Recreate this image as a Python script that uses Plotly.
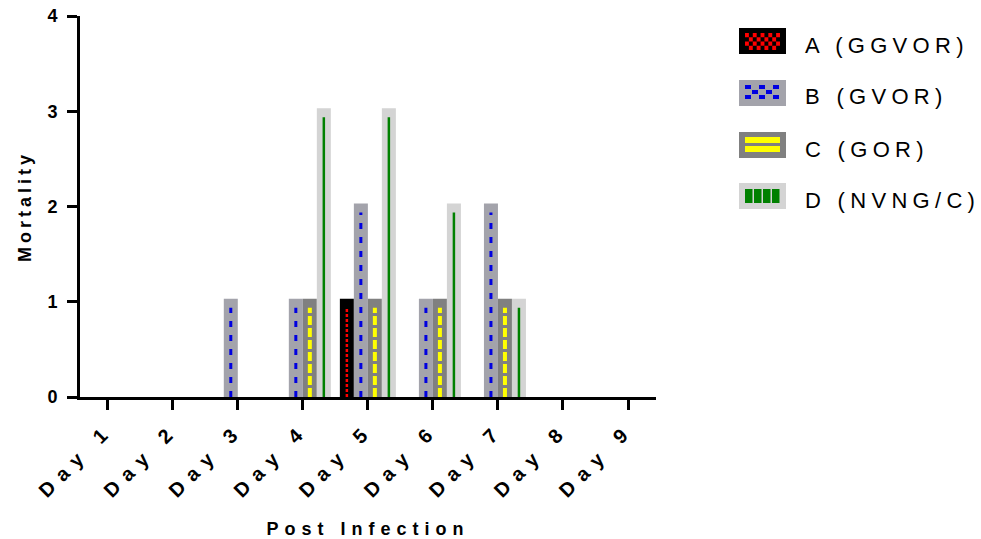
import plotly.graph_objects as go

# ---------------- data ----------------
day_labels = ["Day 1", "Day 2", "Day 3", "Day 4", "Day 5", "Day 6", "Day 7", "Day 8", "Day 9"]
day_pos = [1, 2, 3, 4, 5, 6, 7, 8, 9]
series_names = ["A (GGVOR)", "B (GVOR)", "C (GOR)", "D (NVNG/C)"]
a_vals = [0, 0, 0, 0, 1, 0, 0, 0, 0]
b_vals = [0, 0, 1, 1, 2, 1, 2, 0, 0]
c_vals = [0, 0, 0, 1, 1, 1, 1, 0, 0]
d_vals = [0, 0, 0, 3, 3, 2, 1, 0, 0]
y_ticks = [0, 1, 2, 3, 4]
y_title = "Mortality"
x_title = "Post Infection"

# ---------------- style ----------------
FONT = "Liberation Sans, Arial, Helvetica, sans-serif"
OFF = 0                                  # body margin removed by post_script
W, H = 981 - OFF, 539 - OFF
# plot area (screen pixels) -> figure pixels
PL, PR, PT, PB = 80 - OFF, 656 - OFF, 16 - OFF, 397 - OFF
X_RANGE = [0.574, 9.43]
PX_PER_DAY = (PR - PL) / (X_RANGE[1] - X_RANGE[0])
PX_PER_UNIT = (PB - PT) / 4.0

fills = ["#000000", "#a3a3ab", "#808080", "#d4d4d4"]
line_colors = ["#ff0000", "#0000e0", "#ffff00", "#008000"]
line_dash = ["3px,2px", "6px,8px", "9px,3px", "solid"]
line_width = [2.5, 3, 4, 2.5]

BAR_PX = 14.0
STROKE_PX = 6.0
bw_full = BAR_PX / PX_PER_DAY
bw_fill = (BAR_PX - STROKE_PX) / PX_PER_DAY
stroke_off = (STROKE_PX / 2) / PX_PER_DAY
line_gap = 6.0 / PX_PER_UNIT


def sp(text, spacing):
    return '<span style="letter-spacing:%spx">%s</span>' % (spacing, text)


def pxx(xs):
    # screen x -> paper
    return (xs - OFF - PL) / (PR - PL)


def pxy(ys):
    # screen y -> paper
    return (PB - (ys - OFF)) / (PB - PT)


fig = go.Figure()
all_vals = [a_vals, b_vals, c_vals, d_vals]
for i, vals in enumerate(all_vals):
    fig.add_trace(go.Bar(
        x=day_pos, y=vals, name=series_names[i],
        width=bw_fill, offset=(-2 + i) * bw_full + stroke_off,
        marker=dict(color=fills[i],
                    line=dict(color=fills[i], width=[STROKE_PX if v > 0 else 0 for v in vals])),
        showlegend=False, hoverinfo="x+y+name",
    ))

# inner patterned lines in each bar
for i, vals in enumerate(all_vals):
    xs, ys = [], []
    for d, v in zip(day_pos, vals):
        if v > 0:
            xc = d + (-1.5 + i) * bw_full
            xs += [xc, xc, None]
            ys += [0, v - line_gap, None]
    fig.add_trace(go.Scatter(
        x=xs, y=ys, mode="lines",
        line=dict(color=line_colors[i], width=line_width[i], dash=line_dash[i]),
        showlegend=False, hoverinfo="skip",
    ))

# ---------------- manual legend (screen pixel positions) ----------------
shapes = []
annotations = []
sw_x0, sw_x1 = 739, 786
in_x0, in_x1 = 745, 780
row_tops = [28, 80, 132, 183]
sw_h = 26


def rect(x0, y0, x1, y1, color):
    shapes.append(dict(type="rect", xref="paper", yref="paper",
                       x0=pxx(x0), x1=pxx(x1), y0=pxy(y1), y1=pxy(y0),
                       fillcolor=color, line=dict(width=0), layer="above"))


for i, top in enumerate(row_tops):
    rect(sw_x0, top, sw_x1, top + sw_h, fills[i])
    if i == 0:   # red checker
        cols, rows = 9, 4
        cw = (in_x1 - in_x0) / cols
        ch = 17.0 / rows
        for r in range(rows):
            for c in range(cols):
                if (r + c) % 2 == 0:
                    rect(in_x0 + c * cw, top + 5 + r * ch, in_x0 + (c + 1) * cw, top + 5 + (r + 1) * ch, line_colors[0])
    elif i == 1:  # blue cross pattern
        cw = (in_x1 - in_x0) / 5
        for r, colset in enumerate([(0, 2, 4), (1, 3), (0, 2, 4)]):
            for c in colset:
                rect(in_x0 + c * cw, top + 5 + r * 5, in_x0 + (c + 1) * cw - 1, top + 5 + r * 5 + 4, line_colors[1])
    elif i == 2:  # yellow stripes
        rect(in_x0, top + 5, in_x1, top + 11, line_colors[2])
        rect(in_x0, top + 14, in_x1, top + 20, line_colors[2])
    else:         # green blocks
        for k in range(4):
            rect(in_x0 + k * 9, top + 6, in_x0 + k * 9 + 7.5, top + 20, line_colors[3])
    annotations.append(dict(
        xref="paper", yref="paper", x=pxx(803), y=pxy(top + sw_h / 2 + 4),
        xanchor="left", yanchor="middle", showarrow=False,
        text=sp(series_names[i], 5.3), font=dict(family=FONT, size=22, color="#000000"),
    ))

fig.update_layout(
    width=W, height=H,
    margin=dict(l=PL, r=W - PR, t=PT, b=H - PB, pad=0, autoexpand=False),
    paper_bgcolor="white", plot_bgcolor="white",
    barmode="overlay",
    shapes=shapes, annotations=annotations,
    font=dict(family=FONT, color="#000000"),
    xaxis=dict(
        range=X_RANGE, tickmode="array", tickvals=day_pos,
        ticktext=[sp(t, 8.5) for t in day_labels], tickangle=-45,
        tickfont=dict(family=FONT, size=20, weight="bold", color="#000000"),
        showline=True, linecolor="#000000", linewidth=3,
        ticks="outside", ticklen=10, tickwidth=3, tickcolor="#000000",
        showgrid=False, zeroline=False, ticklabeloverflow="allow", automargin=False,
        title=dict(text=sp(x_title, 6), font=dict(family=FONT, size=18, weight="bold", color="#000000"),
                   standoff=22),
    ),
    yaxis=dict(
        range=[0, 4], tickmode="array", tickvals=y_ticks,
        tickfont=dict(family=FONT, size=18, weight="bold", color="#000000"),
        showline=True, linecolor="#000000", linewidth=3,
        ticks="outside", ticklen=10, tickwidth=3, tickcolor="#000000",
        ticklabelstandoff=6, ticklabeloverflow="allow", automargin=False,
        showgrid=False, zeroline=False,
        title=dict(text=sp(y_title, 4), font=dict(family=FONT, size=18, weight="bold", color="#000000"),
                   standoff=12),
    ),
)

fig.write_html("out.html",
               config={"displayModeBar": False},
               post_script="document.body.style.margin='0px';document.body.style.overflow='hidden';")
